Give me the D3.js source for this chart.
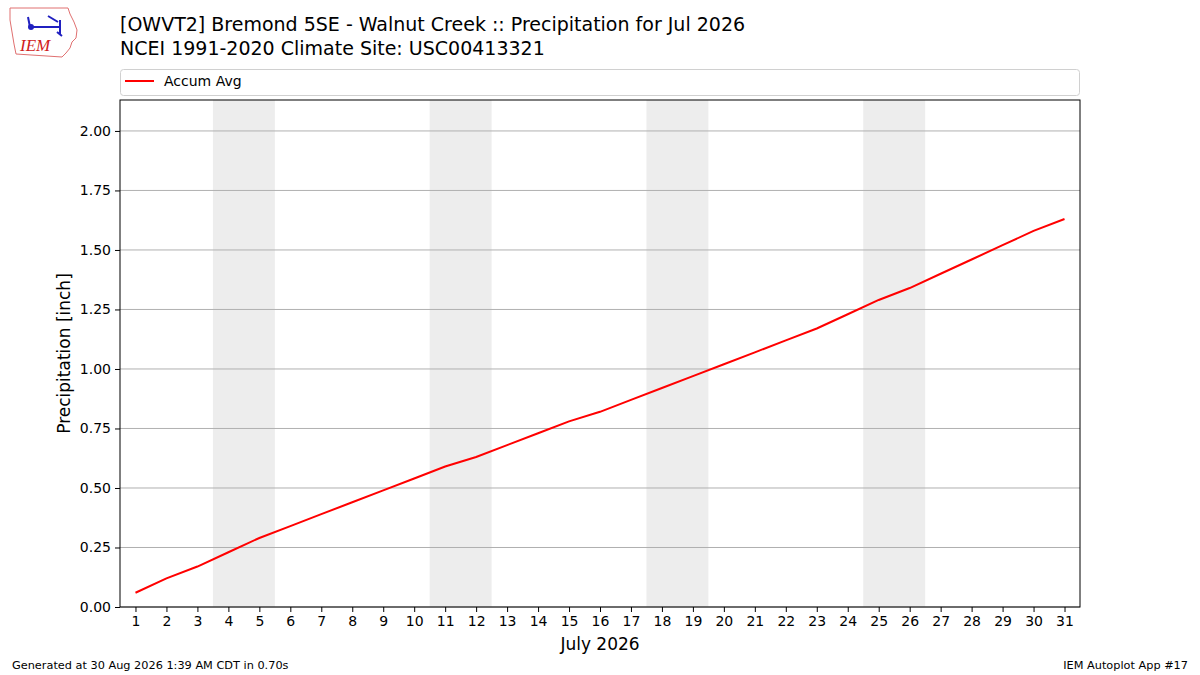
<!DOCTYPE html>
<html>
<head>
<meta charset="utf-8">
<script src="https://cdn.jsdelivr.net/npm/d3@7"></script>
<style>
  body { margin: 0; background: #fff; }
  svg { font-family: "DejaVu Sans", sans-serif; }
</style>
</head>
<body>
<svg id="chart" width="1200" height="675"></svg>
<script>
// July 2026 daily accumulated climatology (inch)
var days = d3.range(1, 32)
var accumAvg = [0.06, 0.12, 0.17, 0.23, 0.29, 0.34, 0.39, 0.44, 0.49, 0.54,
                0.59, 0.63, 0.68, 0.73, 0.78, 0.82, 0.87, 0.92, 0.97, 1.02,
                1.07, 1.12, 1.17, 1.23, 1.29, 1.34, 1.40, 1.46, 1.52, 1.58, 1.63]
var weekends = [[4, 5], [11, 12], [18, 19], [25, 26]]
var yTicks = [0, 0.25, 0.5, 0.75, 1.0, 1.25, 1.5, 1.75, 2.0]

var titleLines = ['[OWVT2] Bremond 5SE - Walnut Creek :: Precipitation for Jul 2026',
                  'NCEI 1991-2020 Climate Site: USC00413321']

var svg = d3.select('#chart')
var m = {left: 120, right: 1080, top: 100, bottom: 607}

var x = d3.scaleLinear().domain([0.5, 31.5]).range([m.left, m.right])
var y = d3.scaleLinear().domain([0, 2.13]).range([m.bottom, m.top])

// weekend shading
svg.append('g').selectAll('rect')
   .data(weekends)
   .enter()
   .append('rect')
   .attr('x', d => x(d[0] - 0.5))
   .attr('width', d => x(d[1] + 0.5) - x(d[0] - 0.5))
   .attr('y', m.top)
   .attr('height', m.bottom - m.top)
   .attr('fill', '#ededed')

// grid
svg.append('g').selectAll('line')
   .data(yTicks)
   .enter()
   .append('line')
   .attr('x1', m.left).attr('x2', m.right)
   .attr('y1', d => y(d)).attr('y2', d => y(d))
   .attr('stroke', '#b0b0b0')
   .attr('stroke-width', 1)

// line
var line = d3.line().x((d, i) => x(days[i])).y(d => y(d))
svg.append('path')
   .datum(accumAvg)
   .attr('d', line)
   .attr('fill', 'none')
   .attr('stroke', 'red')
   .attr('stroke-width', 2)

// frame
svg.append('rect')
   .attr('x', m.left).attr('y', m.top)
   .attr('width', m.right - m.left).attr('height', m.bottom - m.top)
   .attr('fill', 'none').attr('stroke', '#000').attr('stroke-width', 1)

// axes
var xAxis = svg.append('g')
   .attr('transform', 'translate(0,' + m.bottom + ')')
   .call(d3.axisBottom(x).tickValues(days).tickSize(5).tickPadding(4).tickFormat(d3.format('d')))
var yAxis = svg.append('g')
   .attr('transform', 'translate(' + m.left + ',0)')
   .call(d3.axisLeft(y).tickValues(yTicks).tickSize(5).tickPadding(4).tickFormat(d3.format('.2f')))
;[xAxis, yAxis].forEach(function (a) {
  a.select('.domain').remove()
  a.selectAll('text').attr('font-size', 14).attr('fill', '#000')
   .attr('font-family', '"DejaVu Sans", sans-serif')
  a.selectAll('line').attr('stroke', '#000')
})

svg.append('text')
   .attr('x', (m.left + m.right) / 2).attr('y', 650)
   .attr('text-anchor', 'middle').attr('font-size', 17)
   .text('July 2026')
svg.append('text')
   .attr('transform', 'translate(70,' + (m.top + m.bottom) / 2 + ') rotate(-90)')
   .attr('text-anchor', 'middle').attr('font-size', 17)
   .text('Precipitation [inch]')

// titles
svg.selectAll('text.title')
   .data(titleLines)
   .enter()
   .append('text')
   .attr('class', 'title')
   .attr('x', 120)
   .attr('y', (d, i) => 31 + i * 24)
   .attr('font-size', 19)
   .text(d => d)

// legend
var lg = svg.append('g')
lg.append('rect')
  .attr('x', 120.5).attr('y', 69.5).attr('width', 959).attr('height', 26)
  .attr('rx', 3).attr('fill', '#fff').attr('stroke', '#d0d0d0')
lg.append('line')
  .attr('x1', 125).attr('x2', 154).attr('y1', 81).attr('y2', 81)
  .attr('stroke', 'red').attr('stroke-width', 2)
lg.append('text')
  .attr('x', 164).attr('y', 86).attr('font-size', 14).text('Accum Avg')

// footer
svg.append('text').attr('x', 12).attr('y', 669).attr('font-size', 11.3)
   .text('Generated at 30 Aug 2026 1:39 AM CDT in 0.70s')
svg.append('text').attr('x', 1188).attr('y', 669).attr('font-size', 11.3)
   .attr('text-anchor', 'end').text('IEM Autoplot App #17')

// logo (rough)
var logo = svg.append('g')
logo.append('path')
    .attr('d', 'M10,8 L68,8 L70,14 L74,22 L77,30 L76,38 L72,42 L70,48 L66,53 L62,57 L16,54 L14,44 L12,32 L10,20 Z')
    .attr('fill', 'none').attr('stroke', '#e07070').attr('stroke-width', 1)
logo.append('path')
    .attr('d', 'M30,27 L60,27 M60,20 L60,34 M28,17 L30,27 M48,16 L58,22 M57,32 L62,36')
    .attr('stroke', '#2020c0').attr('stroke-width', 2).attr('fill', 'none')
logo.append('circle').attr('cx', 31).attr('cy', 27).attr('r', 3).attr('fill', '#2020c0')
logo.append('text').attr('x', 20).attr('y', 51).attr('font-size', 17)
    .attr('font-family', '"Liberation Serif", serif').attr('font-style', 'italic')
    .attr('fill', '#d02020').text('IEM')
</script>
</body>
</html>
